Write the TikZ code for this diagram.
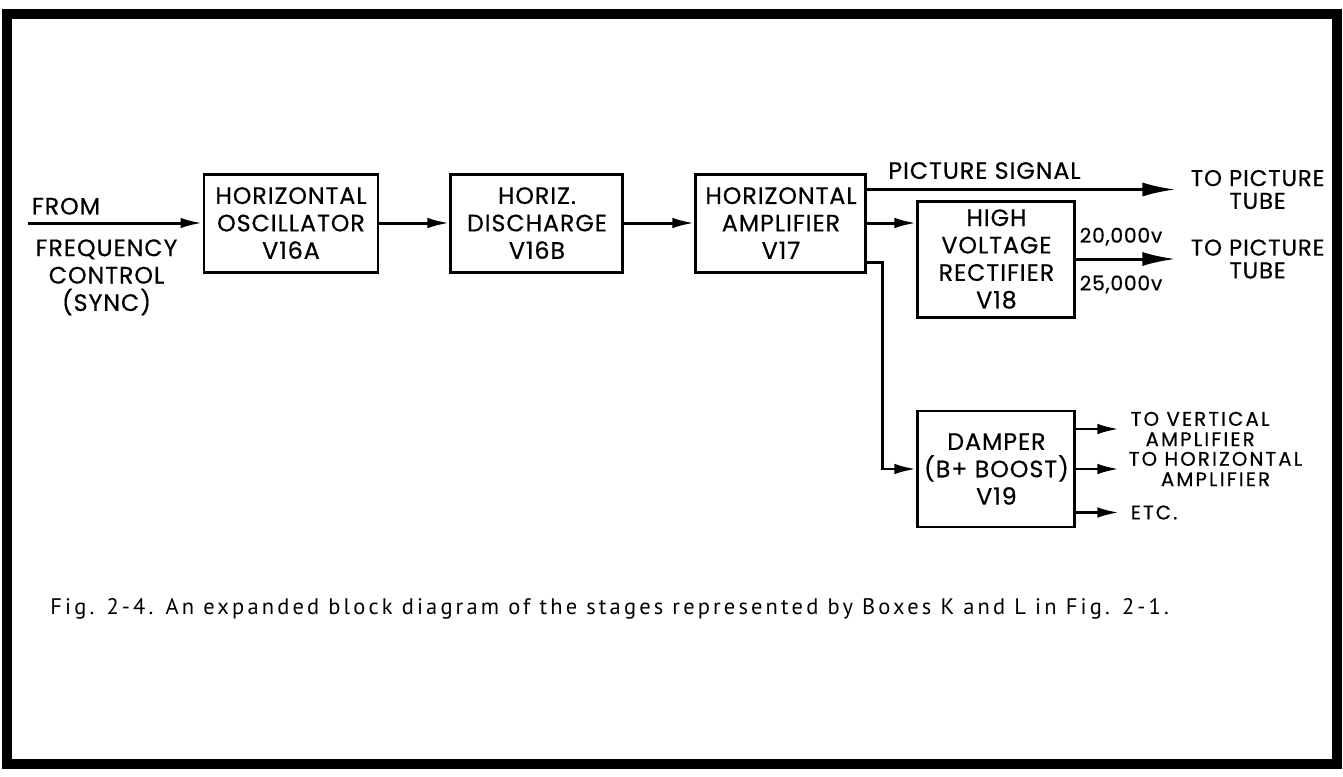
\documentclass[tikz,border=0pt]{standalone}
\usepackage{fontspec}
\newfontfamily\blockfont[LetterSpace=4, FakeBold=0.5]{Poppins}
\newfontfamily\sidefont[LetterSpace=11, FakeBold=0.5]{Poppins}
\newfontfamily\captionfont[LetterSpace=14]{PT Sans}
\usetikzlibrary{arrows.meta,positioning}

\begin{document}
\begin{tikzpicture}[
    node distance=1.4cm,
    block/.style={draw, line width=1.7pt, minimum width=3.44cm, minimum height=1.96cm, inner sep=0pt,
      align=center, font=\blockfont\fontsize{13.5}{15.6}\selectfont},
    hvblock/.style={block, minimum width=3.14cm, minimum height=2.32cm},
    lbl/.style={align=center, inner sep=0pt, font=\blockfont\fontsize{13.5}{15.6}\selectfont},
    tubelbl/.style={lbl, font=\blockfont\fontsize{13}{13}\selectfont},
    small/.style={lbl, font=\sidefont\fontsize{11.2}{11.6}\selectfont},
    volts/.style={lbl, font=\blockfont\fontsize{11.5}{12}\selectfont},
    line/.style={line width=1.7pt},
    arrow/.style={line, -{Latex[length=0.44cm, width=0.21cm]}},
    longarrow/.style={line, -{Latex[length=0.66cm, width=0.28cm]}}
]
\useasboundingbox (0,0) rectangle (26.86,-15.52);
\draw[line width=0.2cm] (0.13,-0.28) rectangle (26.74,-15.28);

\node[block, minimum width=3.48cm] (osc) at (5.82,-4.46) {HORIZONTAL\\OSCILLATOR\\V16A};
\node[block, right=of osc] (disch) {HORIZ.\\DISCHARGE\\V16B};
\node[block, right=of disch, minimum width=3.4cm] (amp) {HORIZONTAL\\AMPLIFIER\\V17};
\node[hvblock, right=0.98cm of amp, yshift=-0.72cm] (hv) {HIGH\\VOLTAGE\\RECTIFIER\\V18};
\node[hvblock, below=1.82cm of hv] (damper) {DAMPER\\(B+ BOOST)\\V19};

\coordinate[left=3.5cm of osc.west] (src);
\node[lbl, anchor=south west] (from) at ([xshift=0.08cm, yshift=0.16cm]src) {FROM};
\node[lbl, anchor=north] (freq) at ([xshift=1.58cm, yshift=-0.32cm]src) {FREQUENCY\\CONTROL\\(SYNC)};

\coordinate (sig) at ([yshift=-0.34cm]amp.north east);
\node[tubelbl, anchor=west, inner xsep=0.3cm] (tube2) at ([xshift=1.98cm]hv.east) {TO PICTURE\\TUBE};
\node[tubelbl, anchor=west, inner xsep=0.3cm] (tube1) at (tube2.west |- sig) {TO PICTURE\\TUBE};

\node[small, anchor=west, inner xsep=0.22cm] (tovert) at ([xshift=0.86cm, yshift=0.8cm]damper.east) {TO VERTICAL\\AMPLIFIER};
\node[small, anchor=west, inner xsep=0.18cm] (tohoriz) at ([xshift=0.86cm]damper.east) {TO HORIZONTAL\\AMPLIFIER};
\node[small, anchor=west, inner xsep=0.22cm] (etc) at ([xshift=0.86cm, yshift=-0.87cm]damper.east) {ETC.};

\draw[arrow] (src) -- (osc);
\draw[arrow] (osc) -- (disch);
\draw[arrow] (disch) -- (amp);
\draw[longarrow] (sig) -- node[lbl, above=0.18cm, pos=0.38]{PICTURE SIGNAL} (tube1);
\draw[arrow] (amp.east) -- (amp.east -| hv.west);
\draw[longarrow] (hv) -- node[volts, above=0.24cm, pos=0.45]{20,000v} node[volts, below=0.3cm, pos=0.45]{25,000v} (tube2);
\draw[arrow] ([yshift=0.22cm]amp.south east) -- ++(0.3cm,0) |- (damper);
\draw[arrow] (damper.east |- tovert) -- (tovert);
\draw[arrow] (damper.east |- tohoriz) -- (tohoriz);
\draw[arrow] (damper.east |- etc) -- (etc);

\node[anchor=base west, inner sep=0pt, font=\captionfont\fontsize{12.8}{15}\selectfont] (caption) at (1.0,-12.28)
  {Fig. 2-4. An expanded block diagram of the stages represented by Boxes K and L in Fig. 2-1.};
\end{tikzpicture}
\end{document}
